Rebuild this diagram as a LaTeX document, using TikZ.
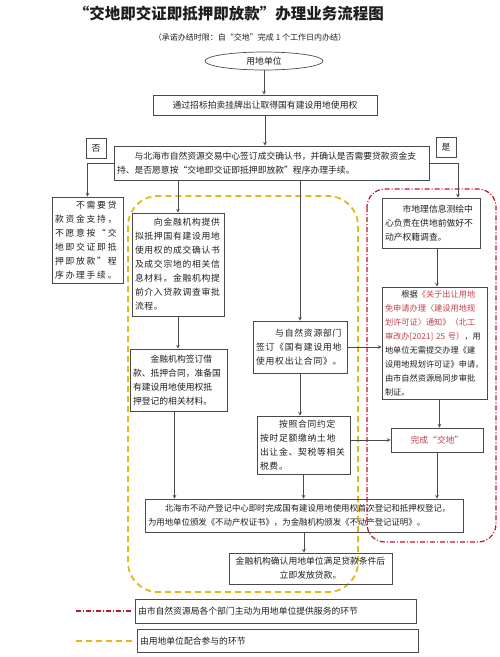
\documentclass[tikz,border=0pt]{standalone}
\usepackage{fontspec}
\usetikzlibrary{shapes.geometric}
\setmainfont{Noto Sans CJK SC}
\definecolor{boxgray}{HTML}{4A4A4A}
\definecolor{inkgray}{HTML}{1E1E1E}
\definecolor{zonered}{HTML}{C0142C}
\definecolor{notered}{HTML}{C0404A}
\definecolor{zoneyellow}{HTML}{E3B818}
\newcommand{\spread}[1]{\addfontfeature{LetterSpace=#1}}
\begin{document}
\begin{tikzpicture}[x=1pt,y=-1pt,>=stealth,
    box/.style={draw=boxgray,line width=0.7pt,inner sep=3pt,align=left,text=inkgray,font=\fontsize{8.8}{14}\selectfont},
    centerbox/.style={box,align=center},
    redzone/.style={draw=zonered,line width=1.2pt,dash pattern=on 5pt off 2pt on 1pt off 2pt},
    yellowzone/.style={draw=zoneyellow,line width=1.8pt,dash pattern=on 6pt off 4pt},
    link/.style={->,boxgray,line width=0.7pt}]
  \useasboundingbox (0,0) rectangle (500,657);
  % heading
  \node[font=\fontsize{15.5}{18}\bfseries,text=inkgray] (title) at (229,14) {“交地即交证即抵押即放款”办理业务流程图};
  \node[font=\fontsize{8}{10}\selectfont,text=inkgray] (note) at (250,37) {（承诺办结时限：自“交地”完成 1 个工作日内办结）};
  % zones
  \draw[yellowzone,rounded corners=30] (128,196) rectangle (358,592);
  \draw[redzone,rounded corners=18] (367,189) rectangle (496,542);
  % nodes
  \node[draw=boxgray,line width=0.7pt,ellipse,minimum width=118,minimum height=18,inner sep=0pt,text=inkgray,font=\fontsize{8.8}{10}\selectfont] (unit) at (264,61) {用地单位};
  \node[centerbox,text width=218,minimum height=20] (land) at (265,105) {通过招标拍卖挂牌出让取得国有建设用地使用权};
  \node[box,text width=309,minimum height=34] (sign) at (271.5,163) {　　与北海市自然资源交易中心签订成交确认书，并确认是否需要贷款资金支\\持、是否愿意按“交地即交证即抵押即放款”程序办理手续。};
  \node[centerbox,minimum width=20,minimum height=20,inner sep=0pt] (no) at (96,148) {否};
  \node[centerbox,minimum width=20,minimum height=20,inner sep=0pt] (yes) at (446,147) {是};
  \node[box,text width=65,minimum height=86,font=\fontsize{8.8}{14}\selectfont\spread{20}] (noloan) at (87.5,240) {　　不需要贷\\款资金支持，\\不愿意按“交\\地即交证即抵\\押即放款”程\\序办理手续。};
  \node[box,text width=86,minimum height=103,font=\fontsize{8.8}{14}\selectfont\spread{8}] (bank) at (178,264.5) {　　向金融机构提供\\拟抵押国有建设用地\\使用权的成交确认书\\及成交宗地的相关信\\息材料。金融机构提\\前介入贷款调查审批\\流程。};
  \node[box,text width=88,minimum height=52,font=\fontsize{8.8}{14}\selectfont\spread{9}] (contract) at (300,347) {　　与自然资源部门\\签订《国有建设用地\\使用权出让合同》。};
  \node[box,text width=91,minimum height=62] (loan) at (178.5,380) {　　金融机构签订借\\款、抵押合同，准备国\\有建设用地使用权抵\\押登记的相关材料。};
  \node[box,text width=87,minimum height=58,font=\fontsize{8.8}{14}\selectfont\spread{8}] (fee) at (303.5,445) {　　按照合同约定\\按时足额缴纳土地\\出让金、契税等相关\\税费。};
  \node[box,text width=92,minimum height=50] (survey) at (431,223) {　　市地理信息测绘中\\心负责在供地前做好不\\动产权籍调查。};
  \node[box,text width=99,minimum height=112,font=\fontsize{8.2}{14}\selectfont] (permit) at (434.5,343) {　　根据\textcolor{notered}{《关于出让用地}\\\textcolor{notered}{免申请办理〈建设用地规}\\\textcolor{notered}{划许可证〉通知》（北工}\\\textcolor{notered}{审改办[2021] 25 号）}，用\\地单位无需提交办理《建\\设用地规划许可证》申请，\\由市自然资源局同步审批\\制证。};
  \node[centerbox,text width=86,minimum height=24,text=notered] (handover) at (437,440) {完成“交地”};
  \node[box,text width=312,minimum height=33,font=\fontsize{8.4}{14}\selectfont] (register) at (304,515.5) {　　北海市不动产登记中心即时完成国有建设用地使用权首次登记和抵押权登记，\\为用地单位颁发《不动产权证书》，为金融机构颁发《不动产登记证明》。};
  \node[centerbox,text width=157,minimum height=31] (release) at (310.5,568.5) {金融机构确认用地单位满足贷款条件后\\立即发放贷款。};
  % legend
  \node[box,text width=275,minimum height=24] (keyred) at (275.5,611) {由市自然资源局各个部门主动为用地单位提供服务的环节};
  \node[box,text width=275,minimum height=23] (keyyellow) at (277.5,641) {由用地单位配合参与的环节};
  \coordinate (redstart) at (76,611);
  \coordinate (yellowstart) at (76,641);
  \draw[redzone] (redstart) -- ([xshift=-3pt]keyred.west);
  \draw[yellowzone] (yellowstart) -- ([xshift=-3pt]keyyellow.west);
  % connectors
  \draw[link] (unit.south) -- (unit.south |- land.north);
  \draw[link] (land.south) -- (land.south |- sign.north);
  \draw[link] (sign.west) -| (noloan.north);
  \draw[link] (sign.east) -| ([xshift=27pt]survey.north);
  \draw[link] (bank.north |- sign.south) -- (bank.north);
  \draw[link] (contract.north |- sign.south) -- (contract.north);
  \draw[link] (bank.south) -- (bank.south |- loan.north);
  \draw[link] (contract.south) -- (contract.south |- fee.north);
  \draw[link] (contract.east) -- (contract.east -| permit.west);
  \draw[link] ([xshift=6pt]survey.south) -- ([xshift=6pt]survey.south |- permit.north);
  \draw[link] ([xshift=5pt]permit.south) -- ([xshift=5pt]permit.south |- handover.north);
  \draw[link] (fee.east |- handover.west) -- (handover.west);
  \draw[link] ([xshift=-4pt]loan.south) -- ([xshift=-4pt]loan.south |- register.north);
  \draw[link] (fee.south) -- (fee.south |- register.north);
  \draw[link] (handover.south) -- (handover.south |- register.north);
  \draw[link] (register.south) -- (register.south |- release.north);
\end{tikzpicture}
\end{document}
